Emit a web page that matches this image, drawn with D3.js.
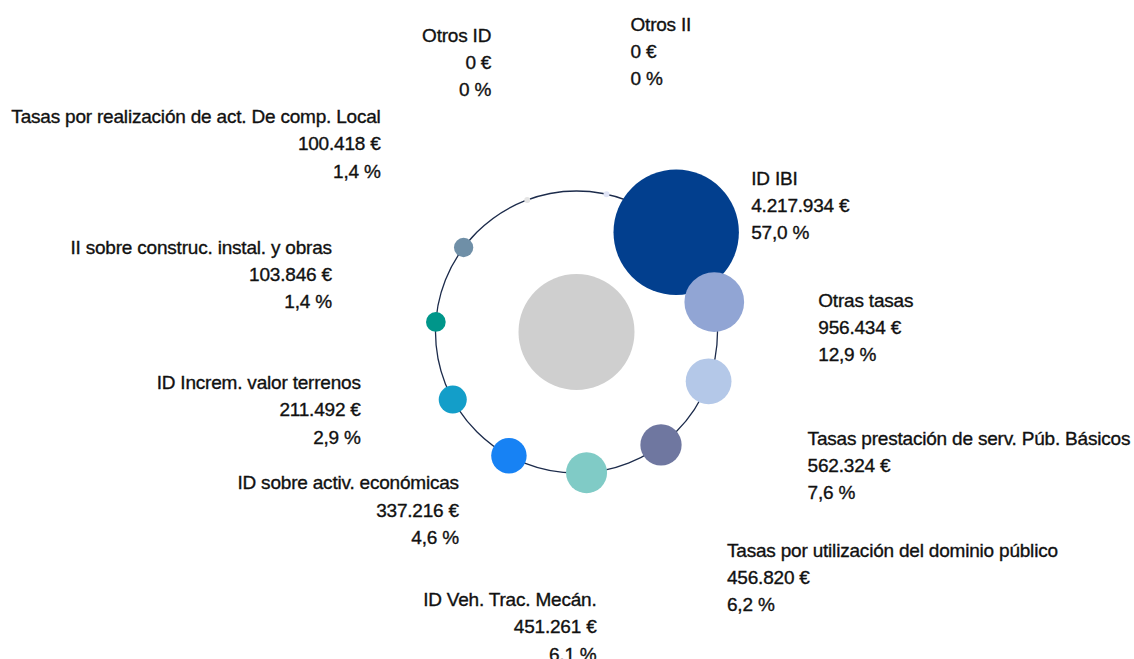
<!DOCTYPE html>
<html>
<head>
<meta charset="utf-8">
<script src="https://cdn.jsdelivr.net/npm/d3@7"></script>
<style>
  html, body { margin: 0; padding: 0; background: #fff; overflow: hidden; }
  svg text {
    font-family: "Liberation Sans", Arial, sans-serif;
    font-size: 19px;
    letter-spacing: -0.2px;
    fill: #111;
    stroke: #111;
    stroke-width: 0.35px;
  }
</style>
</head>
<body>
<div id="chart"></div>
<script>
// Datos: ingresos por concepto (en euros) y porcentaje
const categories = [
    "ID IBI",
    "Otras tasas",
    "Tasas prestación de serv. Púb. Básicos",
    "Tasas por utilización del dominio público",
    "ID Veh. Trac. Mecán.",
    "ID sobre activ. económicas",
    "ID Increm. valor terrenos",
    "II sobre construc. instal. y obras",
    "Tasas por realización de act. De comp. Local",
    "Otros ID",
    "Otros II"
];
const amounts = [4217934, 956434, 562324, 456820, 451261, 337216, 211492, 103846, 100418, 0, 0];
const amountLabels = ["4.217.934 €", "956.434 €", "562.324 €", "456.820 €", "451.261 €", "337.216 €", "211.492 €", "103.846 €", "100.418 €", "0 €", "0 €"];
const percentLabels = ["57,0 %", "12,9 %", "7,6 %", "6,2 %", "6,1 %", "4,6 %", "2,9 %", "1,4 %", "1,4 %", "0 %", "0 %"];
const colors = ["#023f8e", "#91a5d4", "#b4c8e8", "#6f77a0", "#80cbc6", "#1782f4", "#139ec9", "#00968a", "#6f8fa7", "#e4e4e4", "#e0e4f6"];

// Posición de las etiquetas respecto al centro de cada burbuja
const labelLayout = [
    { dx: 75, dy: -54, anchor: "start" },
    { dx: 104, dy: -2, anchor: "start" },
    { dx: 99, dy: 57, anchor: "start" },
    { dx: 66, dy: 105, anchor: "start" },
    { dx: 10, dy: 127, anchor: "end" },
    { dx: -50, dy: 27, anchor: "end" },
    { dx: -92, dy: -17, anchor: "end" },
    { dx: -104, dy: -75, anchor: "end" },
    { dx: -83, dy: -131, anchor: "end" },
    { dx: -36, dy: -165, anchor: "end" },
    { dx: 24, dy: -170, anchor: "start" }
];

const width = 1134;
const height = 659;
const cx = 576.5;
const cy = 332;
const ringRadius = 141;
const lineHeight = 27.2;

const svg = d3.select("#chart")
    .append("svg")
    .attr("width", width)
    .attr("height", height);

const g = svg.append("g").attr("transform", `translate(${cx},${cy})`);

// Ángulo de cada burbuja, repartidas uniformemente en el anillo
const angle = d3.scaleLinear()
    .domain([0, categories.length])
    .range([-Math.PI / 4, -Math.PI / 4 + 2 * Math.PI]);

// Radio proporcional a la raíz del importe
const radius = d3.scaleSqrt()
    .domain([0, d3.max(amounts)])
    .range([0, 62.7]);

const data = categories.map((name, i) => ({
    name,
    amount: amounts[i],
    amountLabel: amountLabels[i],
    percentLabel: percentLabels[i],
    color: colors[i],
    x: ringRadius * Math.cos(angle(i)),
    y: ringRadius * Math.sin(angle(i)),
    r: Math.max(radius(amounts[i]), 3),
    layout: labelLayout[i]
}));

// Anillo
g.append("circle")
    .attr("r", ringRadius)
    .attr("fill", "none")
    .attr("stroke", "#1c2b4b")
    .attr("stroke-width", 1.3);

// Círculo central
g.append("circle")
    .attr("r", 58)
    .attr("fill", "#cfcfcf");

// Burbujas
g.selectAll("circle.bubble")
    .data(data)
    .enter()
    .append("circle")
    .attr("class", "bubble")
    .attr("cx", d => d.x)
    .attr("cy", d => d.y)
    .attr("r", d => d.r)
    .attr("fill", d => d.color);

// Etiquetas
const labels = g.selectAll("text.label")
    .data(data)
    .enter()
    .append("text")
    .attr("class", "label")
    .attr("text-anchor", d => d.layout.anchor)
    .attr("transform", d => `translate(${d.x + d.layout.dx},${d.y + d.layout.dy})`);

labels.each(function (d) {
    const t = d3.select(this);
    [d.name, d.amountLabel, d.percentLabel].forEach((line, k) => {
        t.append("tspan")
            .attr("x", 0)
            .attr("y", k * lineHeight)
            .attr("dy", "0.35em")
            .text(line);
    });
});
</script>
</body>
</html>
